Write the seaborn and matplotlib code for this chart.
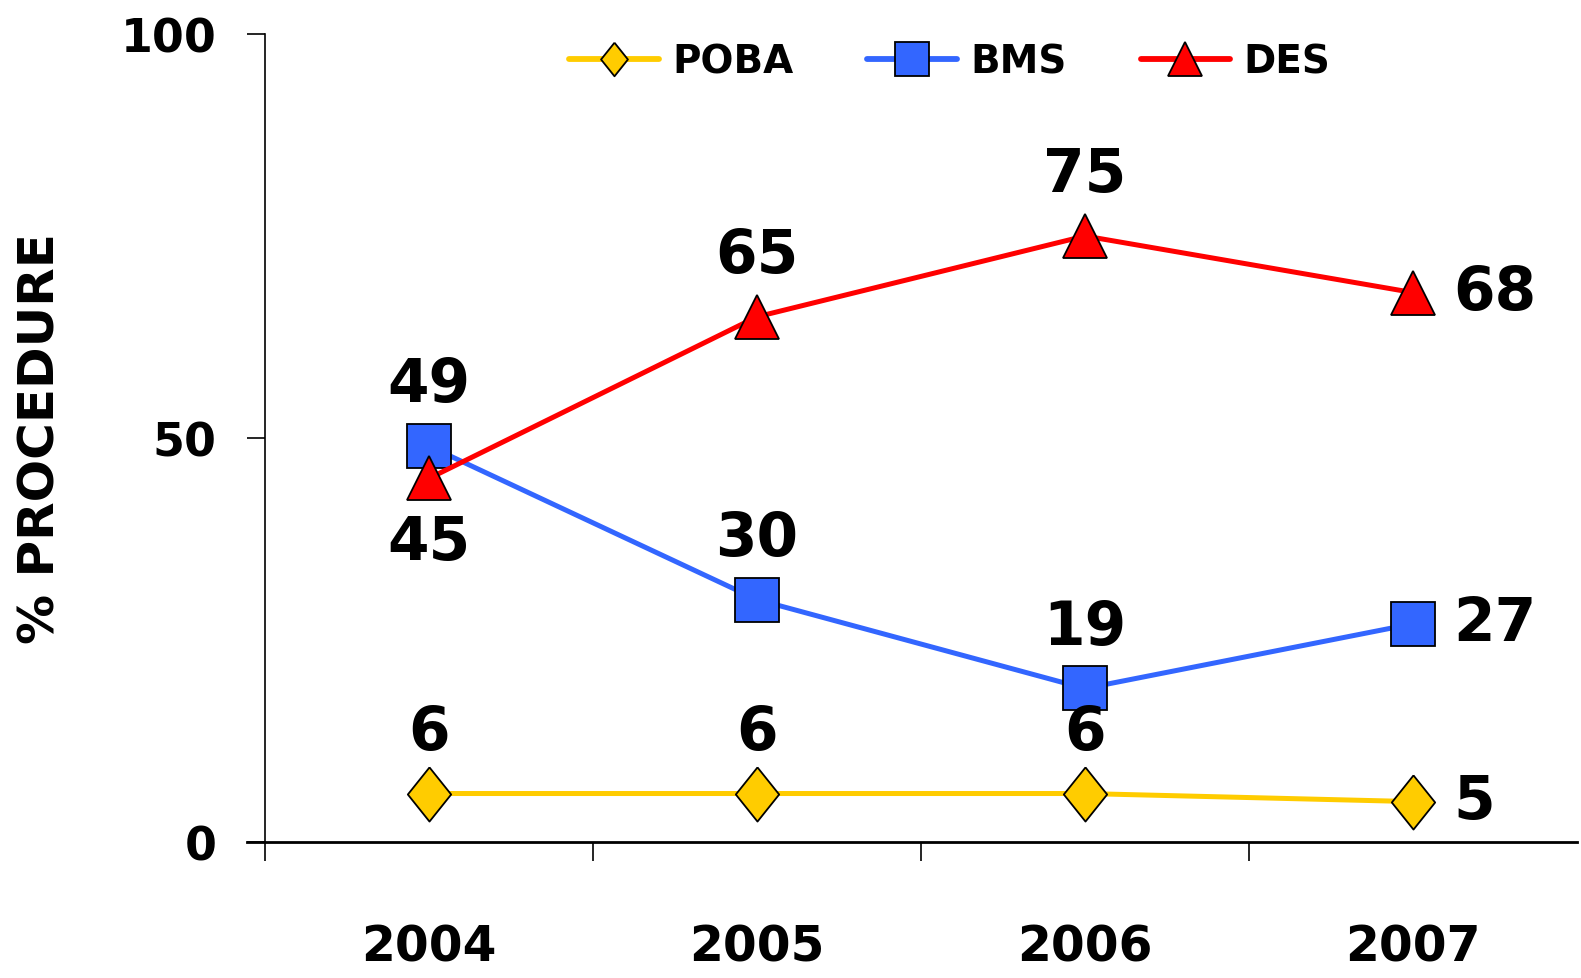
import pandas as pd
import matplotlib.pyplot as plt
import seaborn as sns

sns.set_theme(style="white")
plt.rcParams["font.family"] = ["DejaVu Sans"]
plt.rcParams["font.weight"] = "bold"
plt.rcParams["text.color"] = "black"
plt.rcParams["axes.labelcolor"] = "black"
plt.rcParams["xtick.color"] = "black"
plt.rcParams["ytick.color"] = "black"

# chart values
years = [2004, 2005, 2006, 2007]
poba = [6, 6, 6, 5]
bms = [49, 30, 19, 27]
des = [45, 65, 75, 68]
series_names = ["POBA", "BMS", "DES"]
y_ticks = [0, 50, 100]

# where each value label sits relative to its point
label_side = {
    "POBA": ["above", "above", "above", "right"],
    "BMS": ["above", "above", "above", "right"],
    "DES": ["below", "above", "above", "right"],
}

colors = {"POBA": "#FFCC00", "BMS": "#3366FF", "DES": "#FF0000"}
diamond = [(0, 1), (0.8, 0), (0, -1), (-0.8, 0), (0, 1)]
markers = {"POBA": diamond, "BMS": "s", "DES": "^"}

df = pd.DataFrame({
    "year": years * 3,
    "value": poba + bms + des,
    "series": ["POBA"] * 4 + ["BMS"] * 4 + ["DES"] * 4,
})

fig = plt.figure(figsize=(15.81, 9.79), dpi=100)
ax = fig.add_axes([265 / 1581, 136 / 979, 1312 / 1581, 808 / 979])

sns.lineplot(data=df, x="year", y="value", hue="series", style="series",
             hue_order=series_names, style_order=series_names,
             palette=colors, markers=markers, dashes=False,
             linewidth=3.6, markersize=31, markeredgecolor="black",
             markeredgewidth=1.3, ax=ax)
# the diamond path is normalised smaller, so bump it up
ax.lines[0].set_markersize(39)

ax.set_xlim(2003.5, 2007.5)
ax.set_ylim(0, 100)

# value labels
for name, vals in zip(series_names, [poba, bms, des]):
    for x, v, side in zip(years, vals, label_side[name]):
        if side == "above":
            off, ha = (0, 44), "center"
        elif side == "below":
            off, ha = (0, -46), "center"
        else:
            off, ha = (29, 0), "left"
        ax.annotate(str(v), (x, v), xytext=off, textcoords="offset points",
                    ha=ha, va="center", fontsize=43, fontweight="bold",
                    color="black")

# axes styling
for s in ["top", "right"]:
    ax.spines[s].set_visible(False)
ax.spines["left"].set_color("black")
ax.spines["left"].set_linewidth(1.2)
ax.spines["bottom"].set_color("black")
ax.spines["bottom"].set_linewidth(2)
ax.spines["bottom"].set_bounds(2003.5 - 0.055, 2007.5)

ax.set_yticks(y_ticks)
ax.set_yticklabels([str(t) for t in y_ticks])
ax.tick_params(axis="y", direction="out", length=13, width=1.2, pad=22,
               labelsize=33, colors="black", left=True)
ax.set_xticks(years)
ax.set_xticklabels([str(y) for y in years])
ax.set_xticks([2003.5, 2004.5, 2005.5, 2006.5], minor=True)
ax.tick_params(axis="x", which="major", length=0, pad=58, labelsize=35,
               colors="black")
ax.tick_params(axis="x", which="minor", direction="out", length=14,
               width=1.2, bottom=True, color="black")
for lab in ax.get_xticklabels() + ax.get_yticklabels():
    lab.set_fontweight("bold")

ax.set_xlabel("")
ax.set_ylabel("% PROCEDURE", fontsize=36, fontweight="bold", labelpad=40,
              color="black")

sns.move_legend(ax, "center", bbox_to_anchor=(0.522, 0.966), ncol=3,
                frameon=False, title=None, markerscale=0.78,
                handlelength=2.3, handletextpad=0.35, columnspacing=1.9,
                prop={"weight": "bold", "size": 28})
for t in ax.get_legend().get_texts():
    t.set_color("black")
for h in ax.get_legend().legend_handles:
    h.set_linewidth(4.2)

fig.savefig("out.png", dpi=100)
